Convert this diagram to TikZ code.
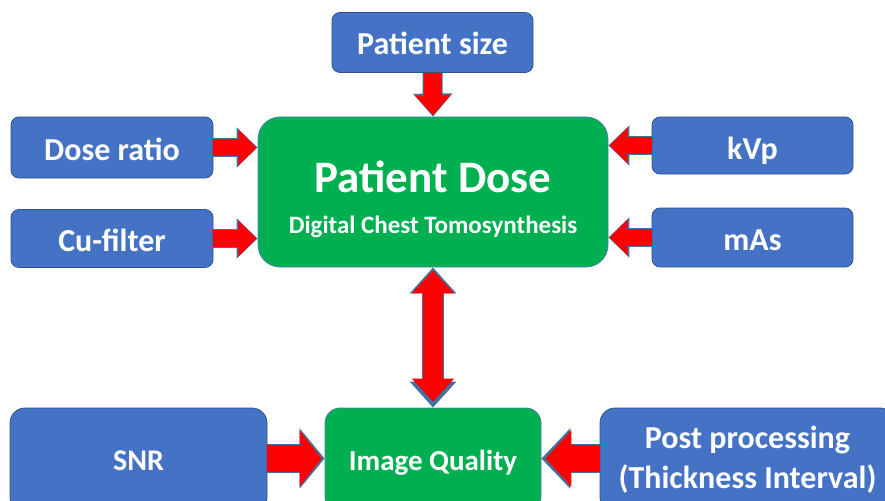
\documentclass[tikz,border=0pt]{standalone}
\usepackage{fontspec}
\setmainfont{Carlito}
\usepackage{tikz}
\usetikzlibrary{arrows.meta}
\usetikzlibrary{positioning}
\usetikzlibrary{calc}
\definecolor{boxblue}{HTML}{4472C4}
\definecolor{blueedge}{HTML}{2F528F}
\definecolor{boxgreen}{HTML}{00B050}
\definecolor{greenedge}{HTML}{4F7FAF}
\definecolor{arrowred}{HTML}{FF0000}
\definecolor{arrowedge}{HTML}{41719C}
\tikzset{
    factor/.style={draw=blueedge, fill=boxblue, line width=0.8pt, rounded corners=8pt,
        text=white, font=\bfseries\fontsize{32}{38}\selectfont, align=center},
    outcome/.style={draw=greenedge, fill=boxgreen, line width=0.8pt, rounded corners=#1,
        text=white, align=center},
    % fixed height and depth so that all one-line labels share the same baseline offset
    oneline/.style={text height=#1+5pt, text depth=5pt},
    fat arrow/.style n args={3}{draw=arrowred, line width=#1,
        -{Triangle[length=#3, width=#2]}, shorten >=1.2pt,
        preaction={draw=arrowedge, line width=#1+2pt, -{Triangle[length=#3+3pt, width=#2+4pt]}, shorten >=0pt}},
    fat double arrow/.style n args={3}{draw=arrowred, line width=#1,
        {Triangle[length=#3, width=#2]}-{Triangle[length=#3, width=#2]}, shorten <=1.2pt, shorten >=1.2pt,
        preaction={draw=arrowedge, line width=#1+2pt,
        {Triangle[length=#3+3pt, width=#2+4pt]}-{Triangle[length=#3+3pt, width=#2+4pt]}, shorten <=0pt, shorten >=0pt}},
}
\begin{document}
\begin{tikzpicture}[x=1pt, y=-1pt]
    \useasboundingbox (0,0) rectangle (885,500);

    % central box
    \node[outcome=22pt, minimum width=350pt, minimum height=150pt, text height=88pt, text depth=6pt,
        font=\bfseries\fontsize{45}{41}\selectfont] (dose) at (433,192)
        {Patient Dose\\{\fontsize{25}{30}\selectfont Digital Chest Tomosynthesis}};

    % exposure factors
    \node[factor, oneline=25pt, minimum width=201pt, minimum height=60pt] (size) at (432.5,42.5) {Patient size};
    \node[factor, oneline=25pt, minimum width=202pt, minimum height=61pt] (ratio) at (112,147.5) {Dose ratio};
    \node[factor, oneline=25pt, minimum width=202pt, minimum height=58pt] (filter) at (112,238.5) {Cu-filter};
    \node[factor, oneline=27pt, minimum width=201pt, minimum height=57pt] (kvp) at (752.5,145.5) {kVp};
    \node[factor, oneline=25pt, minimum width=201pt, minimum height=59pt] (mas) at (752.5,237.5) {mAs};

    % bottom row
    \node[outcome=15pt, oneline=20pt, minimum width=216pt, minimum height=104pt,
        font=\bfseries\fontsize{29}{36}\selectfont] (quality) at (433,460) {Image Quality};
    \node[factor, oneline=20pt, rounded corners=15pt, minimum width=257pt, minimum height=104pt,
        font=\bfseries\fontsize{30}{36}\selectfont] (snr) at (138.5,460) {SNR};
    \node[factor, rounded corners=15pt, minimum width=295pt, minimum height=104pt,
        font=\bfseries\fontsize{32}{40}\selectfont] (post) at (747.5,460) {Post processing\\(Thickness Interval)};

    % arrows into the dose box
    \draw[fat arrow={18pt}{34pt}{20pt}] (size.south) -- (dose.north);
    \draw[fat arrow={17pt}{35pt}{18pt}] (ratio.east) -- (dose.west |- ratio.east);
    \draw[fat arrow={17pt}{35pt}{18pt}] (filter.east) -- (dose.west |- filter.east);
    \draw[fat arrow={17pt}{35pt}{18pt}] (kvp.west) -- (dose.east |- kvp.west);
    \draw[fat arrow={17pt}{35pt}{18pt}] (mas.west) -- (dose.east |- mas.west);

    % dose <-> quality
    \draw[fat double arrow={20pt}{41pt}{23pt}, shorten <=3pt, shorten >=6pt] (dose.south) -- (quality.north);

    % arrows into the quality box
    \draw[fat arrow={27pt}{55pt}{22pt}, shorten >=3pt] ([yshift=1.5pt]snr.east) -- ([yshift=1.5pt]quality.west);
    \draw[fat arrow={27pt}{55pt}{26pt}, shorten >=4pt] ([yshift=1.5pt]post.west) -- ([yshift=1.5pt]quality.east);
\end{tikzpicture}
\end{document}
